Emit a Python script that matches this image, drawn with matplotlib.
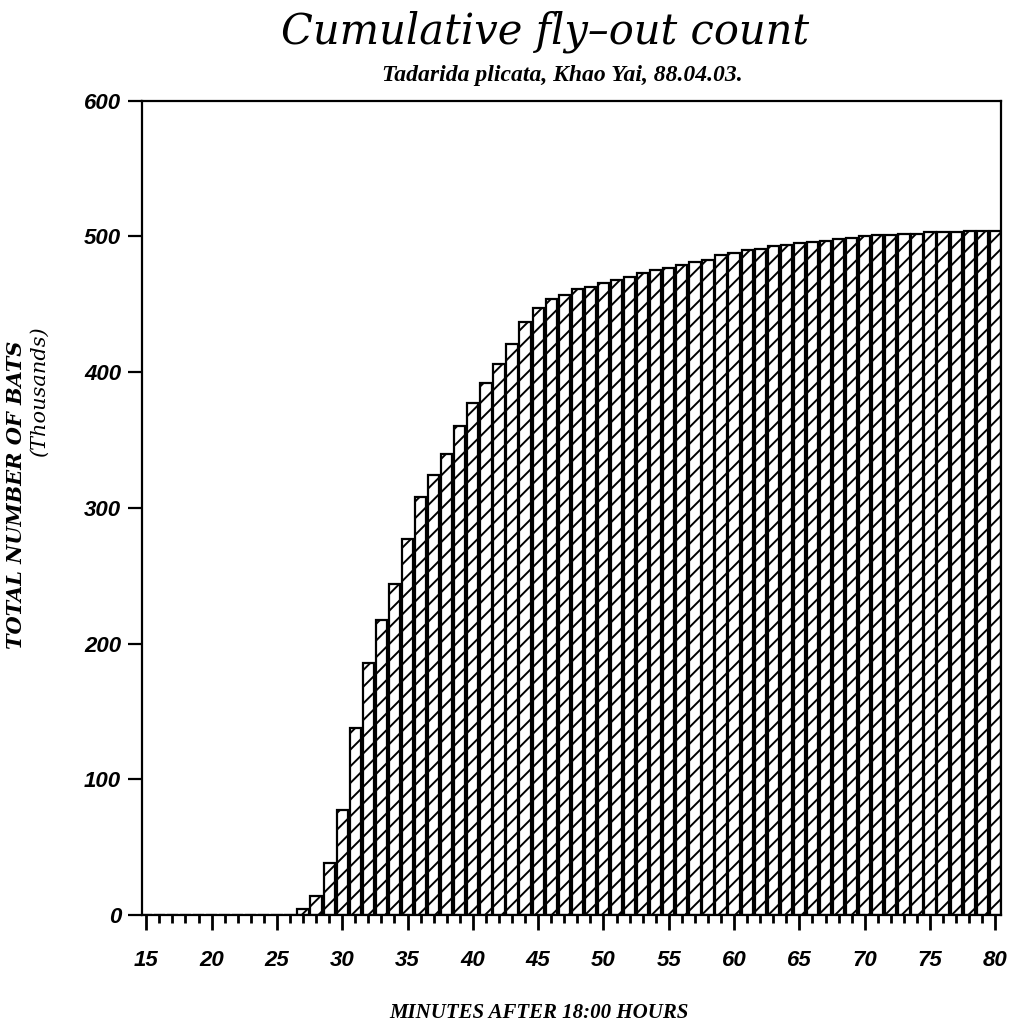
import matplotlib
matplotlib.use("Agg")
import matplotlib.pyplot as plt
import numpy as np

minutes = list(range(15, 81))
counts = [0, 0, 0, 0, 0, 0, 0, 0, 0, 0, 0, 0,          # 15-26
          4, 14, 38, 77, 138, 186, 217, 244, 277, 308,   # 27-36
          324, 340, 360, 377, 392, 406, 421, 437, 447, 454,  # 37-46
          457, 461, 463, 466, 468, 470, 473, 475, 477, 479,  # 47-56
          481, 483, 486, 488, 490, 491, 493, 494, 495, 496,  # 57-66
          497, 498, 499, 500, 501, 501, 502, 502, 503, 503,  # 67-76
          503, 504, 504, 504]                              # 77-80
major_ticks = list(range(15, 81, 5))
y_ticks = [0, 100, 200, 300, 400, 500, 600]

title = "Cumulative fly\u2013out count"
subtitle = "Tadarida plicata, Khao Yai, 88.04.03."
xlabel = "MINUTES AFTER 18:00 HOURS"
ylabel1 = "TOTAL NUMBER OF BATS"
ylabel2 = "(Thousands)"

plt.rcParams['hatch.linewidth'] = 1.4
fig = plt.figure(figsize=(10.14, 10.28), dpi=100)
ax = fig.add_axes([0.140, 0.110, 0.847, 0.792])

ax.bar(minutes, counts, width=0.86, color="white", edgecolor="black",
       linewidth=1.6, hatch="//", zorder=2)

ax.set_xlim(14.67, 80.42)
ax.set_ylim(0, 600)
for s in ax.spines.values():
    s.set_linewidth(1.6)

ax.set_xticks(major_ticks)
ax.set_xticks(minutes, minor=True)
ax.set_yticks(y_ticks)
tick_font = dict(family="Liberation Sans", weight="bold", style="italic", size=16)
ax.set_xticklabels([str(t) for t in major_ticks], fontdict=tick_font)
ax.set_yticklabels([str(t) for t in y_ticks], fontdict=tick_font)
ax.tick_params(axis="x", which="major", direction="out", length=11, width=2, pad=14)
ax.tick_params(axis="x", which="minor", direction="out", length=6, width=2)
ax.tick_params(axis="y", which="major", direction="out", length=10, width=1.6, pad=5)

fig.text(545/1014, 1 - 32/1028, title, ha="center", va="center",
         family="DejaVu Serif", style="italic", size=30)
fig.text(562/1014, 1 - 75/1028, subtitle, ha="center", va="center",
         family="Liberation Serif", style="italic", weight="bold", size=17)
fig.text(539/1014, 1 - 1013/1028, xlabel, ha="center", va="center",
         family="Liberation Serif", style="italic", weight="bold", size=15)
fig.text(16/1014, 1 - 495/1028, ylabel1, ha="center", va="center", rotation=90,
         family="DejaVu Serif", style="italic", weight="bold", size=15)
fig.text(39/1014, 1 - 392/1028, ylabel2, ha="center", va="center", rotation=90,
         family="DejaVu Serif", style="italic", size=15)

fig.savefig("out.png", dpi=100)
